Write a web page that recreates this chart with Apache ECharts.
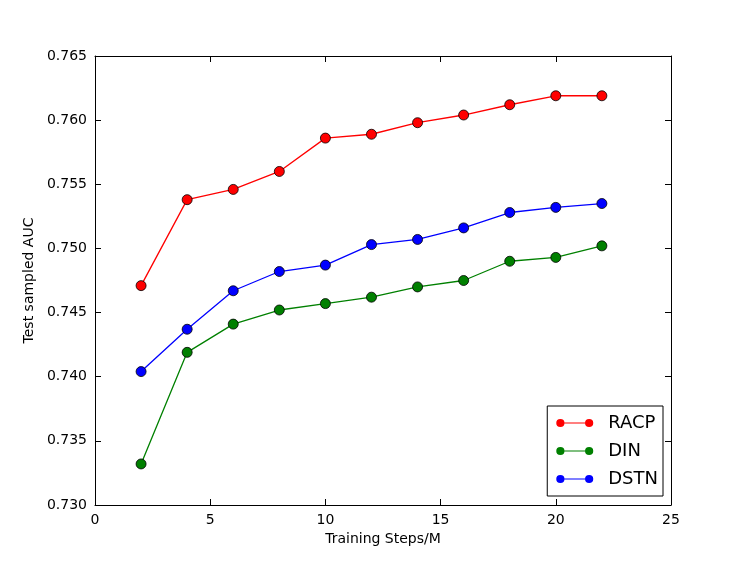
<!DOCTYPE html>
<html>
<head>
<meta charset="utf-8">
<script src="https://cdn.jsdelivr.net/npm/echarts@6/dist/echarts.min.js"></script>
<style>
html, body { margin: 0; padding: 0; background: #fff; }
#J_chart { width: 747px; height: 561px; }
</style>
</head>
<body>
<div id="J_chart"></div>
<script>
var steps = [2, 4, 6, 8, 10, 12, 14, 16, 18, 20, 22];
var racp = [0.7471, 0.7538, 0.7546, 0.7560, 0.7586, 0.7589, 0.7598, 0.7604, 0.7612, 0.7619, 0.7619];
var din = [0.7332, 0.7419, 0.7441, 0.7452, 0.7457, 0.7462, 0.7470, 0.7475, 0.7490, 0.7493, 0.7502];
var dstn = [0.7404, 0.7437, 0.7467, 0.7482, 0.7487, 0.7503, 0.7507, 0.7516, 0.7528, 0.7532, 0.7535];
var seriesNames = ['RACP', 'DIN', 'DSTN'];
var seriesColors = ['#ff0000', '#008000', '#0000ff'];

function pairs(ys) {
    var out = [];
    for (var i = 0; i < steps.length; i++) {
        out.push([steps[i], ys[i]]);
    }
    return out;
}

function makeSeries(name, color, ys) {
    return {
        type: 'line',
        name: name,
        data: pairs(ys),
        symbol: 'circle',
        symbolSize: 10,
        lineStyle: { color: color, width: 1.3 },
        itemStyle: { color: color, borderColor: '#000', borderWidth: 0.8 },
        emphasis: { disabled: true },
        animation: false
    };
}

var font = 'DejaVu Sans';
// two markers joined by a thin line, like the matplotlib legend handle
var legendIcon = 'path://M0.5,4.5 A4,4 0 1,1 8.5,4.5 A4,4 0 1,1 0.5,4.5 Z M28.5,4.5 A4,4 0 1,1 36.5,4.5 A4,4 0 1,1 28.5,4.5 Z M8,4 L29,4 L29,5 L8,5 Z';

var myChart = echarts.init(document.getElementById('J_chart'));

var tickStyle = { show: true, inside: true, length: 6, lineStyle: { color: '#000', width: 1 } };
var frameLine = { show: true, onZero: false, lineStyle: { color: '#000', width: 1 } };

var option = {
    backgroundColor: '#fff',
    grid: { left: 95, right: 76, top: 56, bottom: 56 },
    legend: {
        right: 84,
        bottom: 65,
        orient: 'vertical',
        data: seriesNames,
        icon: legendIcon,
        itemWidth: 37,
        itemHeight: 9,
        itemGap: 10,
        padding: [8, 5, 8, 9],
        borderColor: '#000',
        borderWidth: 1,
        backgroundColor: '#fff',
        itemStyle: { borderWidth: 0 },
        textStyle: { fontFamily: font, fontSize: 18, color: '#000', padding: [0, 0, 0, 10] }
    },
    xAxis: [{
        type: 'value',
        min: 0,
        max: 25,
        interval: 5,
        name: 'Training Steps/M',
        nameLocation: 'middle',
        nameGap: 27,
        nameTextStyle: { fontFamily: font, fontSize: 14, color: '#000' },
        axisLine: frameLine,
        axisTick: tickStyle,
        axisLabel: { fontFamily: font, fontSize: 14, color: '#000', margin: 8 },
        splitLine: { show: false }
    }, {
        type: 'value',
        position: 'top',
        min: 0,
        max: 25,
        interval: 5,
        axisLine: frameLine,
        axisTick: tickStyle,
        axisLabel: { show: false },
        splitLine: { show: false }
    }],
    yAxis: [{
        type: 'value',
        min: 0.730,
        max: 0.765,
        interval: 0.005,
        name: 'Test sampled AUC',
        nameLocation: 'middle',
        nameGap: 54,
        nameTextStyle: { fontFamily: font, fontSize: 14, color: '#000' },
        axisLine: frameLine,
        axisTick: tickStyle,
        axisLabel: {
            fontFamily: font,
            fontSize: 14,
            color: '#000',
            margin: 8,
            formatter: function (value) {
                return value.toFixed(3);
            }
        },
        splitLine: { show: false }
    }, {
        type: 'value',
        position: 'right',
        min: 0.730,
        max: 0.765,
        interval: 0.005,
        axisLine: frameLine,
        axisTick: tickStyle,
        axisLabel: { show: false },
        splitLine: { show: false }
    }],
    series: [
        makeSeries(seriesNames[0], seriesColors[0], racp),
        makeSeries(seriesNames[1], seriesColors[1], din),
        makeSeries(seriesNames[2], seriesColors[2], dstn)
    ]
};

myChart.setOption(option);
</script>
</body>
</html>
